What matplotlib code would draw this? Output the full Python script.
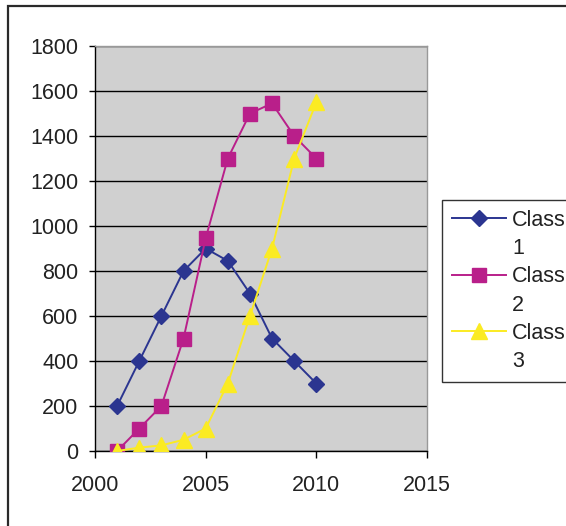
import matplotlib
matplotlib.use("Agg")
import matplotlib.pyplot as plt
from matplotlib.lines import Line2D
from matplotlib.patches import Rectangle

plt.rcParams['font.family'] = ['Liberation Sans', 'DejaVu Sans']

years = [2001, 2002, 2003, 2004, 2005, 2006, 2007, 2008, 2009, 2010]
class1 = [200, 400, 600, 800, 900, 845, 700, 500, 400, 300]
class2 = [0, 100, 200, 500, 945, 1300, 1500, 1545, 1400, 1300]
class3 = [0, 15, 25, 50, 100, 300, 600, 900, 1300, 1550]
names = ['Class', 'Class', 'Class']
numbers = ['1', '2', '3']

W, H = 566, 526
fig = plt.figure(figsize=(W / 100, H / 100), dpi=100)

# outer chart frame (runs off the right and bottom edges)
fig.patches.append(Rectangle((8 / W, -0.05), 1.1, 1 - 6 / H + 0.05,
                             transform=fig.transFigure, fill=False,
                             edgecolor='#2a2a2a', linewidth=1.6))

ax = fig.add_axes([95 / W, 1 - 451 / H, (427 - 95) / W, (451 - 46) / H])
ax.set_facecolor('#d0d0d0')

l1, = ax.plot(years, class1, color='#2b3590', marker='D', markersize=8,
              linewidth=1.4, zorder=3)
l2, = ax.plot(years, class2, color='#b91f8a', marker='s', markersize=10,
              linewidth=1.4, zorder=3)
l3, = ax.plot(years, class3, color='#fbeb23', marker='^', markersize=11.5,
              linewidth=1.4, zorder=3)

ax.set_xlim(2000, 2015)
ax.set_ylim(0, 1800)
ax.set_xticks([2000, 2005, 2010, 2015])
ax.set_yticks(range(0, 1801, 200))
ax.yaxis.grid(True, color='black', linewidth=1.0)
ax.set_axisbelow(True)

for side in ['top', 'right']:
    ax.spines[side].set_color('#999999')
    ax.spines[side].set_linewidth(1.0)
for side in ['left', 'bottom']:
    ax.spines[side].set_color('black')
    ax.spines[side].set_linewidth(1.0)

ax.tick_params(axis='y', length=4, width=1, pad=8, labelsize=15.5)
ax.tick_params(axis='x', length=5, width=1, pad=12, labelsize=15.5)
for t in ax.get_xticklabels() + ax.get_yticklabels():
    t.set_color('#222222')

# each series name wraps onto two rows: "Class" next to the marker, number below
blank = Line2D([], [], linestyle='none')
handles, texts = [], []
for line, name, num in zip([l1, l2, l3], names, numbers):
    handles += [line, blank]
    texts += [name, num]

leg = ax.legend(handles, texts, loc='upper left',
                bbox_to_anchor=(442 / W, 1 - 200 / H),
                bbox_transform=fig.transFigure, frameon=True, fancybox=False,
                fontsize=15.5, handlelength=2.5, handletextpad=0.3,
                labelspacing=0.34, borderpad=0.45, borderaxespad=0)
leg.get_frame().set_edgecolor('black')
leg.get_frame().set_linewidth(1.0)
for t in leg.get_texts():
    t.set_color('#222222')

fig.savefig('out.png', dpi=100)
